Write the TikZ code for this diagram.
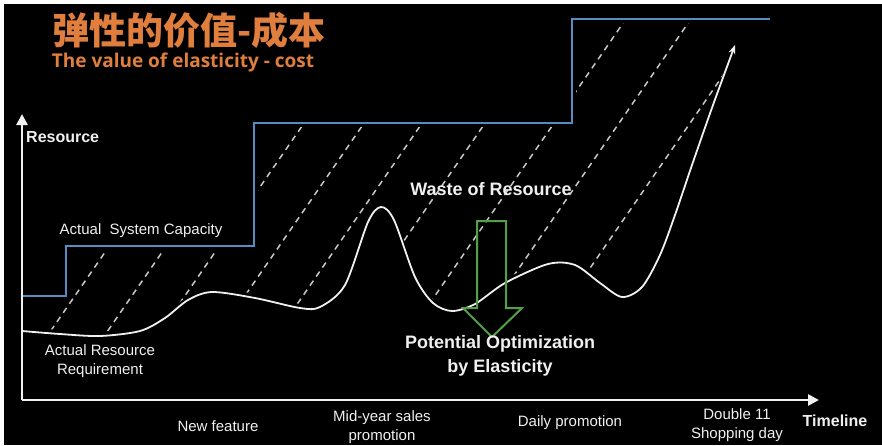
\documentclass[tikz,border=0pt]{standalone}
\usepackage{fontspec}
\setmainfont{Liberation Sans}
\newfontfamily\cjkfont{Noto Sans CJK SC}
\newfontfamily\subfont{Open Sans}
\usetikzlibrary{arrows.meta}
\definecolor{capblue}{RGB}{86,140,196}
\definecolor{titleorange}{RGB}{224,126,62}
\definecolor{optgreen}{RGB}{84,160,72}
\definecolor{hatchgray}{RGB}{200,200,200}
\definecolor{txtwhite}{RGB}{240,240,240}
\tikzset{
  lbl/.style={text=txtwhite,inner sep=0pt,font=\fontsize{15}{19}\selectfont,align=center},
  blbl/.style={text=txtwhite,inner sep=0pt,font=\bfseries\fontsize{18}{24}\selectfont,align=center},
  hatchline/.style={draw=hatchgray,line width=1.5pt,dash pattern=on 6pt off 5pt},
  axisline/.style={draw=txtwhite,line width=2.6pt,-{Triangle[length=11pt,width=11pt]}},
  stepline/.style={draw=capblue,line width=2.4pt},
  reqline/.style={draw=txtwhite,line width=1.8pt},
  optarrow/.style={draw=optgreen,line width=2pt,line join=miter}
}
\begin{document}
\begin{tikzpicture}[x=1pt,y=-1pt]
\useasboundingbox (0,0) rectangle (882,445);
\fill[white] (0,0) rectangle (882,445);
\fill[black] (4,4) rectangle (882,445);
% hatching between capacity and requirement
\begin{scope}
  \clip (0,300) -- (70,300) -- (70,250) -- (258,250) -- (258,127) -- (576,127) -- (576,23) -- (882,23) -- (882,445) -- (0,445) -- cycle;
  \clip[yshift=4pt] (0,0) -- (0,331) -- plot[smooth,tension=0.5] coordinates {(22,331) (60,334) (100,336) (140,331) (165,318) (188,300) (212,292) (255,298) (300,308) (320,307) (345,285) (368,222) (381,207) (394,220) (415,277) (433,303) (452,311) (475,304) (505,283) (548,264) (575,265) (600,283) (622,297) (642,287) (660,255) (675,215) (692,165) (713,105) (735,45)} -- (735,0) -- cycle;
  \foreach \c in {279,336,389,449,507,570,639,704,775}
    \draw[hatchline] (\c,0) -- ({\c-307},445);
\end{scope}
% capacity step line
\draw[stepline] (22,296) -- (66,296) -- (66,246) -- (254,246) -- (254,123) -- (572,123) -- (572,19) -- (770,19);
% requirement curve
\draw[reqline,-{Stealth[length=9pt,width=7pt]}] plot[smooth,tension=0.5] coordinates {(22,331) (60,334) (100,336) (140,331) (165,318) (188,300) (212,292) (255,298) (300,308) (320,307) (345,285) (368,222) (381,207) (394,220) (415,277) (433,303) (452,311) (475,304) (505,283) (548,264) (575,265) (600,283) (622,297) (642,287) (660,255) (675,215) (692,165) (713,105) (735,45)};
% optimization arrow
\draw[optarrow] (477,221) -- (506,221) -- (506,308) -- (522,308) -- (492,337) -- (463,308) -- (477,308) -- cycle;
% axes
\coordinate (O) at (22,400);
\coordinate (ytop) at (22,114);
\coordinate (xend) at (819,400);
\draw[axisline] (O) -- (ytop);
\draw[axisline] (O) -- (xend);
% texts
\node[text=titleorange,inner sep=0pt] (title) at (189,30) {\cjkfont\bfseries\fontsize{37}{42}\selectfont 弹性的价值-成本};
\node[text=titleorange,inner sep=0pt] (subtitle) at (183,63) {\subfont\bfseries\fontsize{19}{22}\selectfont The value of elasticity - cost};
\node[blbl,anchor=west,font=\bfseries\fontsize{16}{20}\selectfont] (reslabel) at (26,137) {Resource};
\node[lbl] (cap) at (141,231) {Actual\ \ System Capacity};
\node[lbl] (req) at (100,361) {Actual Resource\\Requirement};
\node[blbl] (waste) at (491,189) {Waste of Resource};
\node[blbl] (pot) at (500,356) {Potential Optimization\\by Elasticity};
\node[lbl] (nf) at (218,426) {New feature};
\node[lbl] (mid) at (382,427) {Mid-year sales\\promotion};
\node[lbl] (daily) at (570,423) {Daily promotion};
\node[lbl] (d11) at (737,425) {Double 11\\Shopping day};
\node[blbl,font=\bfseries\fontsize{16}{20}\selectfont] (tl) at (835,421) {Timeline};
\end{tikzpicture}
\end{document}
